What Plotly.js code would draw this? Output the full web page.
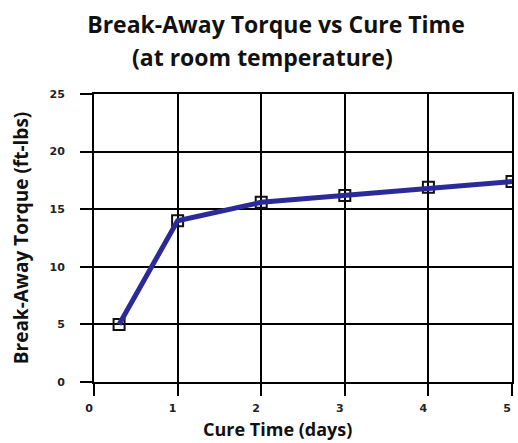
<!DOCTYPE html>
<html>
<head>
<meta charset="utf-8">
<script src="https://cdn.plot.ly/plotly-3.0.1.min.js"></script>
<style>html,body{margin:0;padding:0;background:#fff;}#chart{width:518px;height:443px;}</style>
</head>
<body>
<div id="chart"></div>
<script>
// Data
var cureTimeDays = [0.3, 1, 2, 3, 4, 5];
var torqueFtLbs = [5, 14, 15.6, 16.2, 16.9, 17.4];
var xTickVals = [0, 1, 2, 3, 4, 5];
var yTickVals = [0, 5, 10, 15, 20, 25];

var titleLine1 = 'Break-Away Torque vs Cure Time';
var titleLine2 = '(at room temperature)';
var xTitle = 'Cure Time (days)';
var yTitle = 'Break-Away Torque (ft-lbs)';

var FONT = 'Open Sans, Noto Sans, sans-serif';
var TICKFONT = '"DejaVu Sans", Verdana, sans-serif';

function boldLabels(vals) { return vals.map(function (v) { return '<b>' + v + '</b>'; }); }

var markers = {
  x: cureTimeDays, y: torqueFtLbs, type: 'scatter', mode: 'markers',
  marker: {symbol: 'square-open', size: 11, color: '#111', line: {width: 2, color: '#111'}},
  showlegend: false, hoverinfo: 'skip'
};
var line = {
  x: cureTimeDays, y: torqueFtLbs, type: 'scatter', mode: 'lines',
  line: {color: '#2a2a98', width: 5},
  showlegend: false
};

var axisCommon = {
  showgrid: true, gridcolor: '#000', gridwidth: 2,
  showline: true, linecolor: '#000', linewidth: 2, mirror: true,
  zeroline: false,
  ticks: 'outside', ticklen: 12, tickwidth: 2, tickcolor: '#000',
  tickfont: {family: TICKFONT, size: 11, color: '#222'},
  fixedrange: true
};

var layout = {
  width: 518, height: 443,
  margin: {l: 94, r: 6, t: 94, b: 61},
  paper_bgcolor: '#fff', plot_bgcolor: '#fff',
  title: {
    text: '<b>' + titleLine1 + '</b>',
    font: {family: FONT, size: 23, color: '#111'},
    x: 276 / 518, xanchor: 'center', xref: 'container',
    y: 1 - 25 / 443, yanchor: 'middle', yref: 'container'
  },
  annotations: [{
    text: '<b>' + titleLine2 + '</b>',
    font: {family: FONT, size: 23, color: '#111'},
    xref: 'paper', yref: 'paper',
    x: (262 - 94) / 418, y: (382 - 57) / 288,
    xanchor: 'center', yanchor: 'middle', showarrow: false
  }, {
    text: '<b>' + xTitle + '</b>',
    font: {family: FONT, size: 18, color: '#111'},
    xref: 'paper', yref: 'paper',
    x: (277 - 94) / 418, y: (382 - 443) / 288,
    xanchor: 'center', yanchor: 'bottom', showarrow: false
  }],
  xaxis: Object.assign({}, axisCommon, {
    range: [0, 5], tickvals: xTickVals, ticktext: boldLabels(xTickVals),
    ticklabelshift: -5, ticklabelstandoff: 3
  }),
  yaxis: Object.assign({}, axisCommon, {
    range: [0, 25], tickvals: yTickVals, ticktext: boldLabels(yTickVals),
    ticklabelstandoff: 13,
    title: {text: '<b>' + yTitle + '</b>', font: {family: FONT, size: 19, color: '#111'}, standoff: 16}
  })
};

Plotly.newPlot('chart', [markers, line], layout, {displayModeBar: false, staticPlot: true});
</script>
</body>
</html>
